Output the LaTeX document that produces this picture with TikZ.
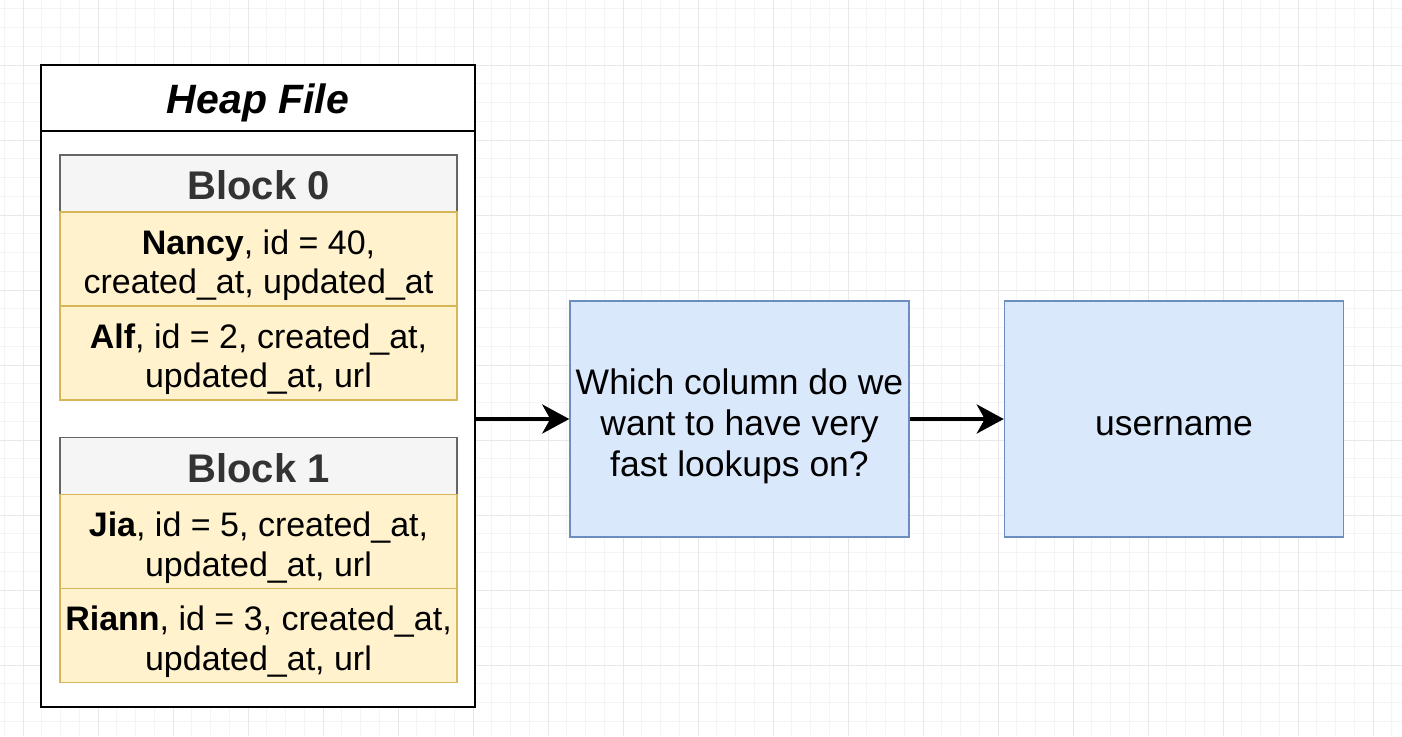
\documentclass[tikz,border=0pt]{standalone}
\usepackage{fontspec}
\setmainfont{Liberation Sans}
\usepackage{xcolor}
\usetikzlibrary{positioning, arrows.meta}
\definecolor{gridminor}{HTML}{F4F4F4}
\definecolor{gridmajor}{HTML}{E8E8E8}
\definecolor{headfill}{HTML}{F5F5F5}
\definecolor{headline}{HTML}{666666}
\definecolor{titlegray}{HTML}{333333}
\definecolor{rowfill}{HTML}{FFF2CC}
\definecolor{rowline}{HTML}{D6B656}
\definecolor{stepfill}{HTML}{DAE8FC}
\definecolor{stepline}{HTML}{6C8EBF}
\newcommand{\rowfont}{\fontsize{34}{39.5}\selectfont}
\newcommand{\stepfont}{\fontsize{35.5}{41}\selectfont}
\newcommand{\titlefont}{\fontsize{40}{46}\selectfont\bfseries}
\newcommand{\lift}[1]{\rule{0pt}{#1}}

\begin{document}
\begin{tikzpicture}[x=1pt, y=-1pt,
  blockhead/.style={draw=headline, fill=headfill, line width=1.5pt, outer sep=0pt,
    minimum width=397pt, minimum height=57pt, font=\titlefont, text=titlegray},
  rowcell/.style={draw=rowline, fill=rowfill, line width=1.5pt, outer sep=0pt,
    minimum width=397pt, minimum height=94pt, align=center, font=\rowfont},
  stepbox/.style={draw=stepline, fill=stepfill, line width=1.5pt,
    minimum width=339pt, minimum height=236pt, align=center, font=\stepfont},
  link/.style={line width=4pt, -{Stealth[length=27pt, width=29pt, inset=8pt]}}]
  \useasboundingbox (0,0) rectangle (1402,736);
  % grid
  \foreach \gx in {-14.5,4.25,...,1402} \draw[gridminor, line width=1pt] (\gx,0) -- (\gx,736);
  \foreach \gy in {-10,8.75,...,736} \draw[gridminor, line width=1pt] (0,\gy) -- (1402,\gy);
  \foreach \gx in {23,98,...,1402} \draw[gridmajor, line width=1pt] (\gx,0) -- (\gx,736);
  \foreach \gy in {-10,65,...,736} \draw[gridmajor, line width=1pt] (0,\gy) -- (1402,\gy);
  % heap file
  \node[draw=black, fill=white, line width=2pt, outer sep=0pt,
    minimum width=434pt, minimum height=642pt] (heap) at (258,386) {};
  \node[draw=black, line width=2pt, outer sep=0pt, anchor=north,
    minimum width=434pt, minimum height=66pt,
    font=\fontsize{41}{47}\selectfont\bfseries\itshape] (heaptitle) at (heap.north) {\lift{40pt}Heap File};
  % block 0
  \node[blockhead] (blk0) at (258.5,183.5) {\lift{33pt}Block 0};
  \node[rowcell, below=0pt of blk0] (nancy) {\lift{37pt}\textbf{Nancy}, id = 40,\\created\_at, updated\_at};
  \node[rowcell, below=0pt of nancy] (alf) {\lift{37pt}\textbf{Alf}, id = 2, created\_at,\\updated\_at, url};
  % block 1
  \node[blockhead] (blk1) at (258.5,466) {\lift{33pt}Block 1};
  \node[rowcell, below=0pt of blk1] (jia) {\lift{37pt}\textbf{Jia}, id = 5, created\_at,\\updated\_at, url};
  \node[rowcell, below=0pt of jia] (riann) {\lift{37pt}\textbf{Riann}, id = 3, created\_at,\\updated\_at, url};
  % question and answer
  \node[stepbox] (question) at (739.5,419) {\lift{40pt}Which column do we\\want to have very\\fast lookups on?};
  \node[stepbox] (answer) at (1174,419) {\lift{34pt}username};
  \draw[link] (heap.east |- question.west) -- (question.west);
  \draw[link] (question.east) -- (answer.west);
\end{tikzpicture}
\end{document}
